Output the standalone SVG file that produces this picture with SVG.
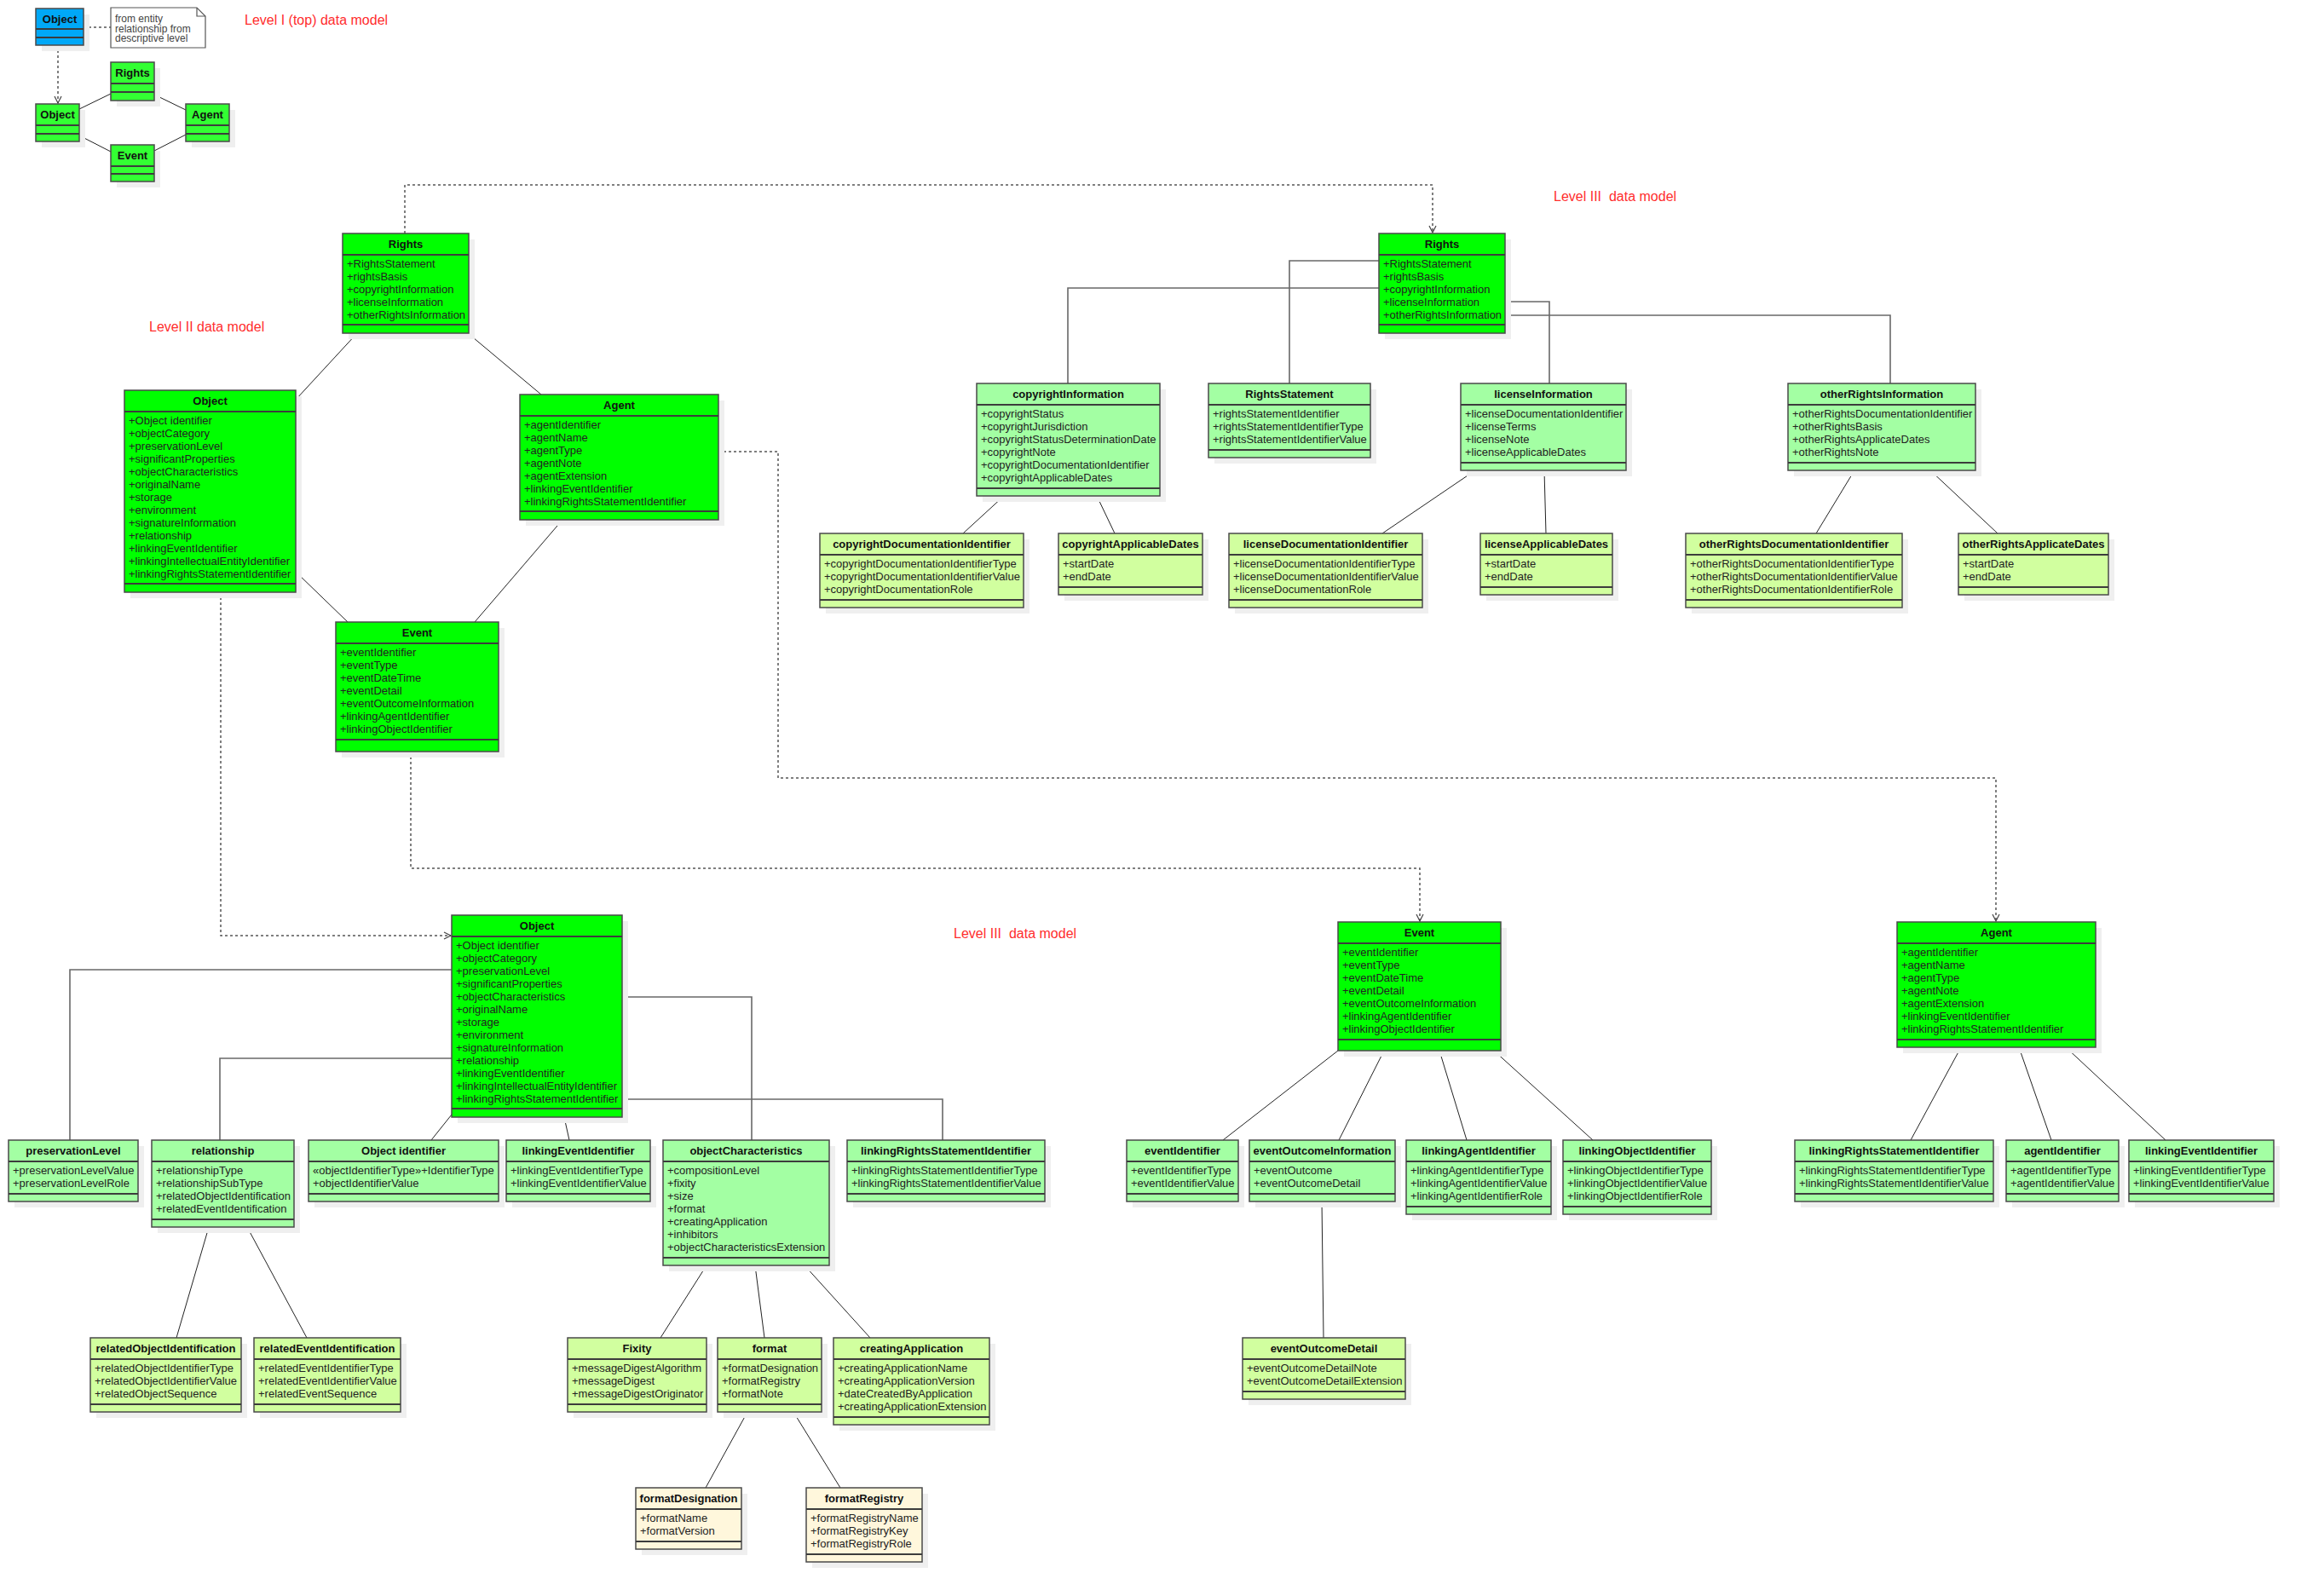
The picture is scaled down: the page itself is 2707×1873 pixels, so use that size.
<svg xmlns="http://www.w3.org/2000/svg" width="2707" height="1873" viewBox="0 0 2707 1873">
<style>
  .sh { fill: #efefef; }
  .box { stroke: #4a4a4a; stroke-width: 1.5; }
  .sep { stroke: #3c3c3c; stroke-width: 2; }
  .blue { fill: #00a8f7; }
  .g1 { fill: #33ff33; }
  .g0 { fill: #00ff00; }
  .g2 { fill: #a3ffa3; }
  .g3 { fill: #d1ff9f; }
  .g4 { fill: #fff7dc; }
  .t { font-family: "Liberation Sans", Arial, sans-serif; font-size: 13px; font-weight: bold; fill: #111; text-anchor: middle; }
  .a { font-family: "Liberation Sans", Arial, sans-serif; font-size: 13px; fill: #222; }
  .lbl { font-family: "Liberation Sans", Arial, sans-serif; font-size: 16px; fill: #ff2d2d; white-space: pre; }
  .note { font-family: "Liberation Sans", Arial, sans-serif; font-size: 12px; fill: #444; }
  .ln { stroke: #222; stroke-width: 1; fill: none; }
  .orth { stroke: #686868; stroke-width: 1.6; fill: none; }
  .dash { stroke: #555; stroke-width: 1.5; fill: none; stroke-dasharray: 3 3; }
</style>
<defs>
  <marker id="open" markerUnits="userSpaceOnUse" markerWidth="12" markerHeight="12" refX="9" refY="5" orient="auto">
    <path d="M1,1 L9,5 L1,9" fill="none" stroke="#444" stroke-width="1.2"/>
  </marker>
</defs>
<rect width="2707" height="1873" fill="#fff"/>

<!-- section titles -->
<g id="labels">
  <text class="lbl" x="287" y="29">Level I (top) data model</text>
  <text class="lbl" x="175" y="389">Level II data model</text>
  <text class="lbl" x="1823" y="236">Level III  data model</text>
  <text class="lbl" x="1119" y="1101">Level III  data model</text>
</g>

<!-- connectors -->
<g id="connectors">
  <!-- level I -->
  <path class="dash" d="M98,32 H130"/>
  <path class="dash" d="M68,53 V121" marker-end="url(#open)"/>
  <line class="ln" x1="93" y1="128" x2="130" y2="110"/>
  <line class="ln" x1="181" y1="111" x2="218" y2="129"/>
  <line class="ln" x1="93" y1="159" x2="130" y2="178"/>
  <line class="ln" x1="181" y1="177" x2="218" y2="158"/>
  <!-- level II -->
  <line class="ln" x1="419" y1="391" x2="347" y2="469"/>
  <line class="ln" x1="549" y1="391" x2="635" y2="463"/>
  <line class="ln" x1="347" y1="671" x2="408" y2="730"/>
  <line class="ln" x1="660" y1="610" x2="557" y2="730"/>
  <!-- level II to level III -->
  <path class="dash" d="M475,274 V217 H1681 V273" marker-end="url(#open)"/>
  <path class="dash" d="M259,695 V1098 H529" marker-end="url(#open)"/>
  <path class="dash" d="M482,882 V1019 H1666 V1081" marker-end="url(#open)"/>
  <path class="dash" d="M843,530 H913 V913 H2342 V1081" marker-end="url(#open)"/>
  <!-- rights tree -->
  <path class="orth" d="M1618,306 H1513 V450"/>
  <path class="orth" d="M1618,338 H1253 V450"/>
  <path class="orth" d="M1766,354 H1818 V450"/>
  <path class="orth" d="M1766,370 H2218 V450"/>
  <line class="ln" x1="1178" y1="582" x2="1130" y2="626"/>
  <line class="ln" x1="1287" y1="582" x2="1308" y2="626"/>
  <line class="ln" x1="1731" y1="552" x2="1622" y2="626"/>
  <line class="ln" x1="1812" y1="552" x2="1814" y2="626"/>
  <line class="ln" x1="2176" y1="552" x2="2131" y2="626"/>
  <line class="ln" x1="2265" y1="552" x2="2344" y2="626"/>
  <!-- object tree -->
  <path class="orth" d="M530,1138 H82 V1338"/>
  <path class="orth" d="M530,1242 H258 V1338"/>
  <path class="orth" d="M730,1170 H882 V1338"/>
  <path class="orth" d="M730,1290 H1106 V1338"/>
  <line class="ln" x1="530" y1="1308" x2="506" y2="1338"/>
  <line class="ln" x1="662" y1="1311" x2="668" y2="1338"/>
  <line class="ln" x1="245" y1="1440" x2="207" y2="1570"/>
  <line class="ln" x1="290" y1="1440" x2="360" y2="1570"/>
  <line class="ln" x1="829" y1="1485" x2="775" y2="1570"/>
  <line class="ln" x1="886" y1="1485" x2="897" y2="1570"/>
  <line class="ln" x1="944" y1="1485" x2="1021" y2="1570"/>
  <line class="ln" x1="877" y1="1657" x2="828" y2="1746"/>
  <line class="ln" x1="931" y1="1657" x2="986" y2="1746"/>
  <!-- event tree -->
  <line class="ln" x1="1570" y1="1233" x2="1435" y2="1338"/>
  <line class="ln" x1="1624" y1="1233" x2="1571" y2="1338"/>
  <line class="ln" x1="1689" y1="1233" x2="1721" y2="1338"/>
  <line class="ln" x1="1753" y1="1233" x2="1869" y2="1338"/>
  <line class="ln" x1="1551" y1="1410" x2="1553" y2="1570"/>
  <!-- agent tree -->
  <line class="ln" x1="2301" y1="1229" x2="2242" y2="1338"/>
  <line class="ln" x1="2369" y1="1229" x2="2407" y2="1338"/>
  <line class="ln" x1="2424" y1="1229" x2="2541" y2="1338"/>
</g>

<!-- level I -->
<g id="note">
  <path d="M130,9 H231 L241,19 V56 H130 Z" fill="#fff" stroke="#555" stroke-width="1.2"/>
  <path d="M231,9 V19 H241" fill="none" stroke="#555" stroke-width="1.2"/>
  <text class="note" x="135" y="26">from entity</text>
  <text class="note" x="135" y="37.5">relationship from</text>
  <text class="note" x="135" y="49">descriptive level</text>
</g>
<g id="l1-object-desc" transform="translate(42,10)">
  <rect class="sh" x="7" y="7" width="56" height="43"/>
  <rect class="box blue" width="56" height="43"/>
  <line class="sep" x1="0" y1="24" x2="56" y2="24"/>
  <line class="sep" x1="0" y1="34" x2="56" y2="34"/>
  <text class="t" x="28" y="17">Object</text>
</g>
<g id="l1-object" transform="translate(42,122)">
  <rect class="sh" x="7" y="7" width="51" height="44"/>
  <rect class="box g1" width="51" height="44"/>
  <line class="sep" x1="0" y1="25" x2="51" y2="25"/>
  <line class="sep" x1="0" y1="35" x2="51" y2="35"/>
  <text class="t" x="25.5" y="17">Object</text>
</g>
<g id="l1-rights" transform="translate(130,73)">
  <rect class="sh" x="7" y="7" width="51" height="45"/>
  <rect class="box g1" width="51" height="45"/>
  <line class="sep" x1="0" y1="25" x2="51" y2="25"/>
  <line class="sep" x1="0" y1="35" x2="51" y2="35"/>
  <text class="t" x="25.5" y="17">Rights</text>
</g>
<g id="l1-agent" transform="translate(218,122)">
  <rect class="sh" x="7" y="7" width="51" height="44"/>
  <rect class="box g1" width="51" height="44"/>
  <line class="sep" x1="0" y1="25" x2="51" y2="25"/>
  <line class="sep" x1="0" y1="35" x2="51" y2="35"/>
  <text class="t" x="25.5" y="17">Agent</text>
</g>
<g id="l1-event" transform="translate(130,170)">
  <rect class="sh" x="7" y="7" width="51" height="43"/>
  <rect class="box g1" width="51" height="43"/>
  <line class="sep" x1="0" y1="25" x2="51" y2="25"/>
  <line class="sep" x1="0" y1="34" x2="51" y2="34"/>
  <text class="t" x="25.5" y="17">Event</text>
</g>

<!-- level II -->
<g id="l2-rights" transform="translate(402,274)">
  <rect class="sh" x="7" y="7" width="148" height="117"/>
  <rect class="box g0" width="148" height="117"/>
  <line class="sep" x1="0" y1="25" x2="148" y2="25"/>
  <line class="sep" x1="0" y1="107" x2="148" y2="107"/>
  <text class="t" x="74" y="17">Rights</text>
  <text class="a" y="25"><tspan x="5" dy="15">+RightsStatement</tspan><tspan x="5" dy="15">+rightsBasis</tspan><tspan x="5" dy="15">+copyrightInformation</tspan><tspan x="5" dy="15">+licenseInformation</tspan><tspan x="5" dy="15">+otherRightsInformation</tspan></text>
</g>
<g id="l2-object" transform="translate(146,458)">
  <rect class="sh" x="7" y="7" width="201" height="237"/>
  <rect class="box g0" width="201" height="237"/>
  <line class="sep" x1="0" y1="25" x2="201" y2="25"/>
  <line class="sep" x1="0" y1="227" x2="201" y2="227"/>
  <text class="t" x="100.5" y="17">Object</text>
  <text class="a" y="25"><tspan x="5" dy="15">+Object identifier</tspan><tspan x="5" dy="15">+objectCategory</tspan><tspan x="5" dy="15">+preservationLevel</tspan><tspan x="5" dy="15">+significantProperties</tspan><tspan x="5" dy="15">+objectCharacteristics</tspan><tspan x="5" dy="15">+originalName</tspan><tspan x="5" dy="15">+storage</tspan><tspan x="5" dy="15">+environment</tspan><tspan x="5" dy="15">+signatureInformation</tspan><tspan x="5" dy="15">+relationship</tspan><tspan x="5" dy="15">+linkingEventIdentifier</tspan><tspan x="5" dy="15">+linkingIntellectualEntityIdentifier</tspan><tspan x="5" dy="15">+linkingRightsStatementIdentifier</tspan></text>
</g>
<g id="l2-agent" transform="translate(610,463)">
  <rect class="sh" x="7" y="7" width="233" height="147"/>
  <rect class="box g0" width="233" height="147"/>
  <line class="sep" x1="0" y1="25" x2="233" y2="25"/>
  <line class="sep" x1="0" y1="137" x2="233" y2="137"/>
  <text class="t" x="116.5" y="17">Agent</text>
  <text class="a" y="25"><tspan x="5" dy="15">+agentIdentifier</tspan><tspan x="5" dy="15">+agentName</tspan><tspan x="5" dy="15">+agentType</tspan><tspan x="5" dy="15">+agentNote</tspan><tspan x="5" dy="15">+agentExtension</tspan><tspan x="5" dy="15">+linkingEventIdentifier</tspan><tspan x="5" dy="15">+linkingRightsStatementIdentifier</tspan></text>
</g>
<g id="l2-event" transform="translate(394,730)">
  <rect class="sh" x="7" y="7" width="191" height="152"/>
  <rect class="box g0" width="191" height="152"/>
  <line class="sep" x1="0" y1="25" x2="191" y2="25"/>
  <line class="sep" x1="0" y1="138" x2="191" y2="138"/>
  <text class="t" x="95.5" y="17">Event</text>
  <text class="a" y="25"><tspan x="5" dy="15">+eventIdentifier</tspan><tspan x="5" dy="15">+eventType</tspan><tspan x="5" dy="15">+eventDateTime</tspan><tspan x="5" dy="15">+eventDetail</tspan><tspan x="5" dy="15">+eventOutcomeInformation</tspan><tspan x="5" dy="15">+linkingAgentIdentifier</tspan><tspan x="5" dy="15">+linkingObjectIdentifier</tspan></text>
</g>

<!-- level III: rights -->
<g id="l3-rights" transform="translate(1618,274)">
  <rect class="sh" x="7" y="7" width="148" height="117"/>
  <rect class="box g0" width="148" height="117"/>
  <line class="sep" x1="0" y1="25" x2="148" y2="25"/>
  <line class="sep" x1="0" y1="107" x2="148" y2="107"/>
  <text class="t" x="74" y="17">Rights</text>
  <text class="a" y="25"><tspan x="5" dy="15">+RightsStatement</tspan><tspan x="5" dy="15">+rightsBasis</tspan><tspan x="5" dy="15">+copyrightInformation</tspan><tspan x="5" dy="15">+licenseInformation</tspan><tspan x="5" dy="15">+otherRightsInformation</tspan></text>
</g>
<g id="copyrightInformation" transform="translate(1146,450)">
  <rect class="sh" x="7" y="7" width="215" height="132"/>
  <rect class="box g2" width="215" height="132"/>
  <line class="sep" x1="0" y1="25" x2="215" y2="25"/>
  <line class="sep" x1="0" y1="123" x2="215" y2="123"/>
  <text class="t" x="107.5" y="17">copyrightInformation</text>
  <text class="a" y="25"><tspan x="5" dy="15">+copyrightStatus</tspan><tspan x="5" dy="15">+copyrightJurisdiction</tspan><tspan x="5" dy="15">+copyrightStatusDeterminationDate</tspan><tspan x="5" dy="15">+copyrightNote</tspan><tspan x="5" dy="15">+copyrightDocumentationIdentifier</tspan><tspan x="5" dy="15">+copyrightApplicableDates</tspan></text>
</g>
<g id="RightsStatement" transform="translate(1418,450)">
  <rect class="sh" x="7" y="7" width="190" height="87"/>
  <rect class="box g2" width="190" height="87"/>
  <line class="sep" x1="0" y1="25" x2="190" y2="25"/>
  <line class="sep" x1="0" y1="78" x2="190" y2="78"/>
  <text class="t" x="95" y="17">RightsStatement</text>
  <text class="a" y="25"><tspan x="5" dy="15">+rightsStatementIdentifier</tspan><tspan x="5" dy="15">+rightsStatementIdentifierType</tspan><tspan x="5" dy="15">+rightsStatementIdentifierValue</tspan></text>
</g>
<g id="licenseInformation" transform="translate(1714,450)">
  <rect class="sh" x="7" y="7" width="194" height="102"/>
  <rect class="box g2" width="194" height="102"/>
  <line class="sep" x1="0" y1="25" x2="194" y2="25"/>
  <line class="sep" x1="0" y1="93" x2="194" y2="93"/>
  <text class="t" x="97" y="17">licenseInformation</text>
  <text class="a" y="25"><tspan x="5" dy="15">+licenseDocumentationIdentifier</tspan><tspan x="5" dy="15">+licenseTerms</tspan><tspan x="5" dy="15">+licenseNote</tspan><tspan x="5" dy="15">+licenseApplicableDates</tspan></text>
</g>
<g id="otherRightsInformation" transform="translate(2098,450)">
  <rect class="sh" x="7" y="7" width="220" height="102"/>
  <rect class="box g2" width="220" height="102"/>
  <line class="sep" x1="0" y1="25" x2="220" y2="25"/>
  <line class="sep" x1="0" y1="93" x2="220" y2="93"/>
  <text class="t" x="110" y="17">otherRightsInformation</text>
  <text class="a" y="25"><tspan x="5" dy="15">+otherRightsDocumentationIdentifier</tspan><tspan x="5" dy="15">+otherRightsBasis</tspan><tspan x="5" dy="15">+otherRightsApplicateDates</tspan><tspan x="5" dy="15">+otherRightsNote</tspan></text>
</g>
<g id="copyrightDocumentationIdentifier" transform="translate(962,626)">
  <rect class="sh" x="7" y="7" width="239" height="87"/>
  <rect class="box g3" width="239" height="87"/>
  <line class="sep" x1="0" y1="25" x2="239" y2="25"/>
  <line class="sep" x1="0" y1="78" x2="239" y2="78"/>
  <text class="t" x="119.5" y="17">copyrightDocumentationIdentifier</text>
  <text class="a" y="25"><tspan x="5" dy="15">+copyrightDocumentationIdentifierType</tspan><tspan x="5" dy="15">+copyrightDocumentationIdentifierValue</tspan><tspan x="5" dy="15">+copyrightDocumentationRole</tspan></text>
</g>
<g id="copyrightApplicableDates" transform="translate(1242,626)">
  <rect class="sh" x="7" y="7" width="169" height="72"/>
  <rect class="box g3" width="169" height="72"/>
  <line class="sep" x1="0" y1="25" x2="169" y2="25"/>
  <line class="sep" x1="0" y1="63" x2="169" y2="63"/>
  <text class="t" x="84.5" y="17">copyrightApplicableDates</text>
  <text class="a" y="25"><tspan x="5" dy="15">+startDate</tspan><tspan x="5" dy="15">+endDate</tspan></text>
</g>
<g id="licenseDocumentationIdentifier" transform="translate(1442,626)">
  <rect class="sh" x="7" y="7" width="227" height="87"/>
  <rect class="box g3" width="227" height="87"/>
  <line class="sep" x1="0" y1="25" x2="227" y2="25"/>
  <line class="sep" x1="0" y1="78" x2="227" y2="78"/>
  <text class="t" x="113.5" y="17">licenseDocumentationIdentifier</text>
  <text class="a" y="25"><tspan x="5" dy="15">+licenseDocumentationIdentifierType</tspan><tspan x="5" dy="15">+licenseDocumentationIdentifierValue</tspan><tspan x="5" dy="15">+licenseDocumentationRole</tspan></text>
</g>
<g id="licenseApplicableDates" transform="translate(1737,626)">
  <rect class="sh" x="7" y="7" width="155" height="72"/>
  <rect class="box g3" width="155" height="72"/>
  <line class="sep" x1="0" y1="25" x2="155" y2="25"/>
  <line class="sep" x1="0" y1="63" x2="155" y2="63"/>
  <text class="t" x="77.5" y="17">licenseApplicableDates</text>
  <text class="a" y="25"><tspan x="5" dy="15">+startDate</tspan><tspan x="5" dy="15">+endDate</tspan></text>
</g>
<g id="otherRightsDocumentationIdentifier" transform="translate(1978,626)">
  <rect class="sh" x="7" y="7" width="254" height="87"/>
  <rect class="box g3" width="254" height="87"/>
  <line class="sep" x1="0" y1="25" x2="254" y2="25"/>
  <line class="sep" x1="0" y1="78" x2="254" y2="78"/>
  <text class="t" x="127" y="17">otherRightsDocumentationIdentifier</text>
  <text class="a" y="25"><tspan x="5" dy="15">+otherRightsDocumentationIdentifierType</tspan><tspan x="5" dy="15">+otherRightsDocumentationIdentifierValue</tspan><tspan x="5" dy="15">+otherRightsDocumentationIdentifierRole</tspan></text>
</g>
<g id="otherRightsApplicateDates" transform="translate(2298,626)">
  <rect class="sh" x="7" y="7" width="176" height="72"/>
  <rect class="box g3" width="176" height="72"/>
  <line class="sep" x1="0" y1="25" x2="176" y2="25"/>
  <line class="sep" x1="0" y1="63" x2="176" y2="63"/>
  <text class="t" x="88" y="17">otherRightsApplicateDates</text>
  <text class="a" y="25"><tspan x="5" dy="15">+startDate</tspan><tspan x="5" dy="15">+endDate</tspan></text>
</g>

<!-- level III: object -->
<g id="l3-object" transform="translate(530,1074)">
  <rect class="sh" x="7" y="7" width="200" height="237"/>
  <rect class="box g0" width="200" height="237"/>
  <line class="sep" x1="0" y1="25" x2="200" y2="25"/>
  <line class="sep" x1="0" y1="227" x2="200" y2="227"/>
  <text class="t" x="100" y="17">Object</text>
  <text class="a" y="25"><tspan x="5" dy="15">+Object identifier</tspan><tspan x="5" dy="15">+objectCategory</tspan><tspan x="5" dy="15">+preservationLevel</tspan><tspan x="5" dy="15">+significantProperties</tspan><tspan x="5" dy="15">+objectCharacteristics</tspan><tspan x="5" dy="15">+originalName</tspan><tspan x="5" dy="15">+storage</tspan><tspan x="5" dy="15">+environment</tspan><tspan x="5" dy="15">+signatureInformation</tspan><tspan x="5" dy="15">+relationship</tspan><tspan x="5" dy="15">+linkingEventIdentifier</tspan><tspan x="5" dy="15">+linkingIntellectualEntityIdentifier</tspan><tspan x="5" dy="15">+linkingRightsStatementIdentifier</tspan></text>
</g>
<g id="preservationLevel" transform="translate(10,1338)">
  <rect class="sh" x="7" y="7" width="152" height="72"/>
  <rect class="box g2" width="152" height="72"/>
  <line class="sep" x1="0" y1="25" x2="152" y2="25"/>
  <line class="sep" x1="0" y1="63" x2="152" y2="63"/>
  <text class="t" x="76" y="17">preservationLevel</text>
  <text class="a" y="25"><tspan x="5" dy="15">+preservationLevelValue</tspan><tspan x="5" dy="15">+preservationLevelRole</tspan></text>
</g>
<g id="relationship" transform="translate(178,1338)">
  <rect class="sh" x="7" y="7" width="167" height="102"/>
  <rect class="box g2" width="167" height="102"/>
  <line class="sep" x1="0" y1="25" x2="167" y2="25"/>
  <line class="sep" x1="0" y1="93" x2="167" y2="93"/>
  <text class="t" x="83.5" y="17">relationship</text>
  <text class="a" y="25"><tspan x="5" dy="15">+relationshipType</tspan><tspan x="5" dy="15">+relationshipSubType</tspan><tspan x="5" dy="15">+relatedObjectIdentification</tspan><tspan x="5" dy="15">+relatedEventIdentification</tspan></text>
</g>
<g id="objectIdentifier" transform="translate(362,1338)">
  <rect class="sh" x="7" y="7" width="223" height="72"/>
  <rect class="box g2" width="223" height="72"/>
  <line class="sep" x1="0" y1="25" x2="223" y2="25"/>
  <line class="sep" x1="0" y1="63" x2="223" y2="63"/>
  <text class="t" x="111.5" y="17">Object identifier</text>
  <text class="a" y="25"><tspan x="5" dy="15">«objectIdentifierType»+IdentifierType</tspan><tspan x="5" dy="15">+objectIdentifierValue</tspan></text>
</g>
<g id="obj-linkingEventIdentifier" transform="translate(594,1338)">
  <rect class="sh" x="7" y="7" width="169" height="72"/>
  <rect class="box g2" width="169" height="72"/>
  <line class="sep" x1="0" y1="25" x2="169" y2="25"/>
  <line class="sep" x1="0" y1="63" x2="169" y2="63"/>
  <text class="t" x="84.5" y="17">linkingEventIdentifier</text>
  <text class="a" y="25"><tspan x="5" dy="15">+linkingEventIdentifierType</tspan><tspan x="5" dy="15">+linkingEventIdentifierValue</tspan></text>
</g>
<g id="objectCharacteristics" transform="translate(778,1338)">
  <rect class="sh" x="7" y="7" width="195" height="147"/>
  <rect class="box g2" width="195" height="147"/>
  <line class="sep" x1="0" y1="25" x2="195" y2="25"/>
  <line class="sep" x1="0" y1="138" x2="195" y2="138"/>
  <text class="t" x="97.5" y="17">objectCharacteristics</text>
  <text class="a" y="25"><tspan x="5" dy="15">+compositionLevel</tspan><tspan x="5" dy="15">+fixity</tspan><tspan x="5" dy="15">+size</tspan><tspan x="5" dy="15">+format</tspan><tspan x="5" dy="15">+creatingApplication</tspan><tspan x="5" dy="15">+inhibitors</tspan><tspan x="5" dy="15">+objectCharacteristicsExtension</tspan></text>
</g>
<g id="obj-linkingRightsStatementIdentifier" transform="translate(994,1338)">
  <rect class="sh" x="7" y="7" width="232" height="72"/>
  <rect class="box g2" width="232" height="72"/>
  <line class="sep" x1="0" y1="25" x2="232" y2="25"/>
  <line class="sep" x1="0" y1="63" x2="232" y2="63"/>
  <text class="t" x="116" y="17">linkingRightsStatementIdentifier</text>
  <text class="a" y="25"><tspan x="5" dy="15">+linkingRightsStatementIdentifierType</tspan><tspan x="5" dy="15">+linkingRightsStatementIdentifierValue</tspan></text>
</g>
<g id="relatedObjectIdentification" transform="translate(106,1570)">
  <rect class="sh" x="7" y="7" width="177" height="87"/>
  <rect class="box g3" width="177" height="87"/>
  <line class="sep" x1="0" y1="25" x2="177" y2="25"/>
  <line class="sep" x1="0" y1="78" x2="177" y2="78"/>
  <text class="t" x="88.5" y="17">relatedObjectIdentification</text>
  <text class="a" y="25"><tspan x="5" dy="15">+relatedObjectIdentifierType</tspan><tspan x="5" dy="15">+relatedObjectIdentifierValue</tspan><tspan x="5" dy="15">+relatedObjectSequence</tspan></text>
</g>
<g id="relatedEventIdentification" transform="translate(298,1570)">
  <rect class="sh" x="7" y="7" width="172" height="87"/>
  <rect class="box g3" width="172" height="87"/>
  <line class="sep" x1="0" y1="25" x2="172" y2="25"/>
  <line class="sep" x1="0" y1="78" x2="172" y2="78"/>
  <text class="t" x="86" y="17">relatedEventIdentification</text>
  <text class="a" y="25"><tspan x="5" dy="15">+relatedEventIdentifierType</tspan><tspan x="5" dy="15">+relatedEventIdentifierValue</tspan><tspan x="5" dy="15">+relatedEventSequence</tspan></text>
</g>
<g id="Fixity" transform="translate(666,1570)">
  <rect class="sh" x="7" y="7" width="163" height="87"/>
  <rect class="box g3" width="163" height="87"/>
  <line class="sep" x1="0" y1="25" x2="163" y2="25"/>
  <line class="sep" x1="0" y1="78" x2="163" y2="78"/>
  <text class="t" x="81.5" y="17">Fixity</text>
  <text class="a" y="25"><tspan x="5" dy="15">+messageDigestAlgorithm</tspan><tspan x="5" dy="15">+messageDigest</tspan><tspan x="5" dy="15">+messageDigestOriginator</tspan></text>
</g>
<g id="format" transform="translate(842,1570)">
  <rect class="sh" x="7" y="7" width="122" height="87"/>
  <rect class="box g3" width="122" height="87"/>
  <line class="sep" x1="0" y1="25" x2="122" y2="25"/>
  <line class="sep" x1="0" y1="78" x2="122" y2="78"/>
  <text class="t" x="61" y="17">format</text>
  <text class="a" y="25"><tspan x="5" dy="15">+formatDesignation</tspan><tspan x="5" dy="15">+formatRegistry</tspan><tspan x="5" dy="15">+formatNote</tspan></text>
</g>
<g id="creatingApplication" transform="translate(978,1570)">
  <rect class="sh" x="7" y="7" width="183" height="102"/>
  <rect class="box g3" width="183" height="102"/>
  <line class="sep" x1="0" y1="25" x2="183" y2="25"/>
  <line class="sep" x1="0" y1="93" x2="183" y2="93"/>
  <text class="t" x="91.5" y="17">creatingApplication</text>
  <text class="a" y="25"><tspan x="5" dy="15">+creatingApplicationName</tspan><tspan x="5" dy="15">+creatingApplicationVersion</tspan><tspan x="5" dy="15">+dateCreatedByApplication</tspan><tspan x="5" dy="15">+creatingApplicationExtension</tspan></text>
</g>
<g id="formatDesignation" transform="translate(746,1746)">
  <rect class="sh" x="7" y="7" width="124" height="72"/>
  <rect class="box g4" width="124" height="72"/>
  <line class="sep" x1="0" y1="25" x2="124" y2="25"/>
  <line class="sep" x1="0" y1="63" x2="124" y2="63"/>
  <text class="t" x="62" y="17">formatDesignation</text>
  <text class="a" y="25"><tspan x="5" dy="15">+formatName</tspan><tspan x="5" dy="15">+formatVersion</tspan></text>
</g>
<g id="formatRegistry" transform="translate(946,1746)">
  <rect class="sh" x="7" y="7" width="136" height="87"/>
  <rect class="box g4" width="136" height="87"/>
  <line class="sep" x1="0" y1="25" x2="136" y2="25"/>
  <line class="sep" x1="0" y1="78" x2="136" y2="78"/>
  <text class="t" x="68" y="17">formatRegistry</text>
  <text class="a" y="25"><tspan x="5" dy="15">+formatRegistryName</tspan><tspan x="5" dy="15">+formatRegistryKey</tspan><tspan x="5" dy="15">+formatRegistryRole</tspan></text>
</g>

<!-- level III: event -->
<g id="l3-event" transform="translate(1570,1082)">
  <rect class="sh" x="7" y="7" width="191" height="151"/>
  <rect class="box g0" width="191" height="151"/>
  <line class="sep" x1="0" y1="25" x2="191" y2="25"/>
  <line class="sep" x1="0" y1="138" x2="191" y2="138"/>
  <text class="t" x="95.5" y="17">Event</text>
  <text class="a" y="25"><tspan x="5" dy="15">+eventIdentifier</tspan><tspan x="5" dy="15">+eventType</tspan><tspan x="5" dy="15">+eventDateTime</tspan><tspan x="5" dy="15">+eventDetail</tspan><tspan x="5" dy="15">+eventOutcomeInformation</tspan><tspan x="5" dy="15">+linkingAgentIdentifier</tspan><tspan x="5" dy="15">+linkingObjectIdentifier</tspan></text>
</g>
<g id="eventIdentifier" transform="translate(1322,1338)">
  <rect class="sh" x="7" y="7" width="131" height="72"/>
  <rect class="box g2" width="131" height="72"/>
  <line class="sep" x1="0" y1="25" x2="131" y2="25"/>
  <line class="sep" x1="0" y1="63" x2="131" y2="63"/>
  <text class="t" x="65.5" y="17">eventIdentifier</text>
  <text class="a" y="25"><tspan x="5" dy="15">+eventIdentifierType</tspan><tspan x="5" dy="15">+eventIdentifierValue</tspan></text>
</g>
<g id="eventOutcomeInformation" transform="translate(1466,1338)">
  <rect class="sh" x="7" y="7" width="171" height="72"/>
  <rect class="box g2" width="171" height="72"/>
  <line class="sep" x1="0" y1="25" x2="171" y2="25"/>
  <line class="sep" x1="0" y1="63" x2="171" y2="63"/>
  <text class="t" x="85.5" y="17">eventOutcomeInformation</text>
  <text class="a" y="25"><tspan x="5" dy="15">+eventOutcome</tspan><tspan x="5" dy="15">+eventOutcomeDetail</tspan></text>
</g>
<g id="linkingAgentIdentifier" transform="translate(1650,1338)">
  <rect class="sh" x="7" y="7" width="170" height="87"/>
  <rect class="box g2" width="170" height="87"/>
  <line class="sep" x1="0" y1="25" x2="170" y2="25"/>
  <line class="sep" x1="0" y1="78" x2="170" y2="78"/>
  <text class="t" x="85" y="17">linkingAgentIdentifier</text>
  <text class="a" y="25"><tspan x="5" dy="15">+linkingAgentIdentifierType</tspan><tspan x="5" dy="15">+linkingAgentIdentifierValue</tspan><tspan x="5" dy="15">+linkingAgentIdentifierRole</tspan></text>
</g>
<g id="linkingObjectIdentifier" transform="translate(1834,1338)">
  <rect class="sh" x="7" y="7" width="174" height="87"/>
  <rect class="box g2" width="174" height="87"/>
  <line class="sep" x1="0" y1="25" x2="174" y2="25"/>
  <line class="sep" x1="0" y1="78" x2="174" y2="78"/>
  <text class="t" x="87" y="17">linkingObjectIdentifier</text>
  <text class="a" y="25"><tspan x="5" dy="15">+linkingObjectIdentifierType</tspan><tspan x="5" dy="15">+linkingObjectIdentifierValue</tspan><tspan x="5" dy="15">+linkingObjectIdentifierRole</tspan></text>
</g>
<g id="eventOutcomeDetail" transform="translate(1458,1570)">
  <rect class="sh" x="7" y="7" width="191" height="72"/>
  <rect class="box g3" width="191" height="72"/>
  <line class="sep" x1="0" y1="25" x2="191" y2="25"/>
  <line class="sep" x1="0" y1="63" x2="191" y2="63"/>
  <text class="t" x="95.5" y="17">eventOutcomeDetail</text>
  <text class="a" y="25"><tspan x="5" dy="15">+eventOutcomeDetailNote</tspan><tspan x="5" dy="15">+eventOutcomeDetailExtension</tspan></text>
</g>

<!-- level III: agent -->
<g id="l3-agent" transform="translate(2226,1082)">
  <rect class="sh" x="7" y="7" width="233" height="147"/>
  <rect class="box g0" width="233" height="147"/>
  <line class="sep" x1="0" y1="25" x2="233" y2="25"/>
  <line class="sep" x1="0" y1="138" x2="233" y2="138"/>
  <text class="t" x="116.5" y="17">Agent</text>
  <text class="a" y="25"><tspan x="5" dy="15">+agentIdentifier</tspan><tspan x="5" dy="15">+agentName</tspan><tspan x="5" dy="15">+agentType</tspan><tspan x="5" dy="15">+agentNote</tspan><tspan x="5" dy="15">+agentExtension</tspan><tspan x="5" dy="15">+linkingEventIdentifier</tspan><tspan x="5" dy="15">+linkingRightsStatementIdentifier</tspan></text>
</g>
<g id="agent-linkingRightsStatementIdentifier" transform="translate(2106,1338)">
  <rect class="sh" x="7" y="7" width="233" height="72"/>
  <rect class="box g2" width="233" height="72"/>
  <line class="sep" x1="0" y1="25" x2="233" y2="25"/>
  <line class="sep" x1="0" y1="63" x2="233" y2="63"/>
  <text class="t" x="116.5" y="17">linkingRightsStatementIdentifier</text>
  <text class="a" y="25"><tspan x="5" dy="15">+linkingRightsStatementIdentifierType</tspan><tspan x="5" dy="15">+linkingRightsStatementIdentifierValue</tspan></text>
</g>
<g id="agentIdentifier" transform="translate(2354,1338)">
  <rect class="sh" x="7" y="7" width="132" height="72"/>
  <rect class="box g2" width="132" height="72"/>
  <line class="sep" x1="0" y1="25" x2="132" y2="25"/>
  <line class="sep" x1="0" y1="63" x2="132" y2="63"/>
  <text class="t" x="66" y="17">agentIdentifier</text>
  <text class="a" y="25"><tspan x="5" dy="15">+agentIdentifierType</tspan><tspan x="5" dy="15">+agentIdentifierValue</tspan></text>
</g>
<g id="agent-linkingEventIdentifier" transform="translate(2498,1338)">
  <rect class="sh" x="7" y="7" width="170" height="72"/>
  <rect class="box g2" width="170" height="72"/>
  <line class="sep" x1="0" y1="25" x2="170" y2="25"/>
  <line class="sep" x1="0" y1="63" x2="170" y2="63"/>
  <text class="t" x="85" y="17">linkingEventIdentifier</text>
  <text class="a" y="25"><tspan x="5" dy="15">+linkingEventIdentifierType</tspan><tspan x="5" dy="15">+linkingEventIdentifierValue</tspan></text>
</g>
</svg>
